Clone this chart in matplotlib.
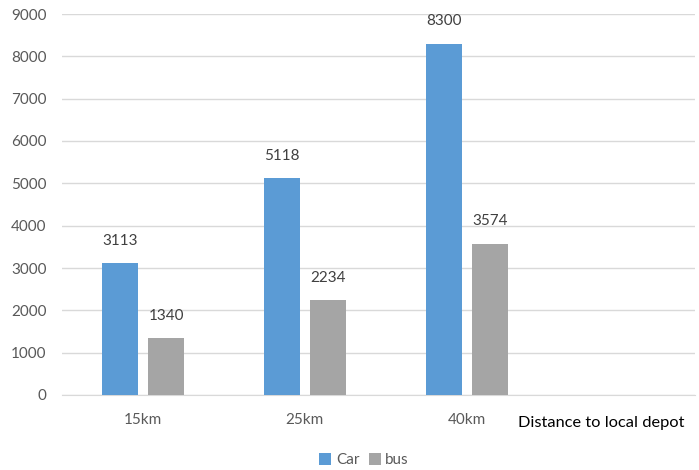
import numpy as np
import matplotlib.pyplot as plt

# Chart data
categories = ['15km', '25km', '40km']
car = [3113, 5118, 8300]
bus = [1340, 2234, 3574]

plt.rcParams['font.family'] = ['Lato', 'DejaVu Sans']

fig = plt.figure(figsize=(6.99, 4.70), dpi=100)
ax = fig.add_axes([62 / 699, 1 - 395 / 470, 633 / 699, (395 - 14) / 470])

x = np.arange(len(categories))
w = 0.222
car_bars = ax.bar(x - 0.142, car, width=w, color='#5B9BD5', label='Car', zorder=3)
bus_bars = ax.bar(x + 0.145, bus, width=w, color='#A5A5A5', label='bus', zorder=3)

# Value labels above the bars
for bars in (car_bars, bus_bars):
    for b in bars:
        ax.annotate(str(int(b.get_height())),
                    (b.get_x() + b.get_width() / 2, b.get_height()),
                    xytext=(0, 11), textcoords='offset points',
                    ha='center', va='bottom', fontsize=11, color='#404040')

ax.set_xlim(-0.5, 3.41)
ax.set_ylim(0, 9000)
ax.set_yticks(range(0, 9001, 1000))
ax.set_xticks(x)
ax.set_xticklabels(categories)

ax.grid(axis='y', color='#D9D9D9', linewidth=1, zorder=0)
for s in ['top', 'right', 'left']:
    ax.spines[s].set_visible(False)
ax.spines['bottom'].set_color('#D9D9D9')
ax.tick_params(axis='both', length=0, labelsize=11, labelcolor='#595959')
ax.tick_params(axis='x', pad=13)
ax.tick_params(axis='y', pad=11)

fig.text(518 / 699, 1 - 423 / 470, 'Distance to local depot',
         ha='left', va='center', fontsize=11.8, color='#000000')

fig.legend(loc='center', bbox_to_anchor=(364 / 699, 1 - 460 / 470), ncol=2,
           frameon=False, fontsize=11, handlelength=0.8, handleheight=0.8,
           handletextpad=0.3, columnspacing=0.6, labelcolor='#595959')

fig.savefig('out.png', dpi=100)
